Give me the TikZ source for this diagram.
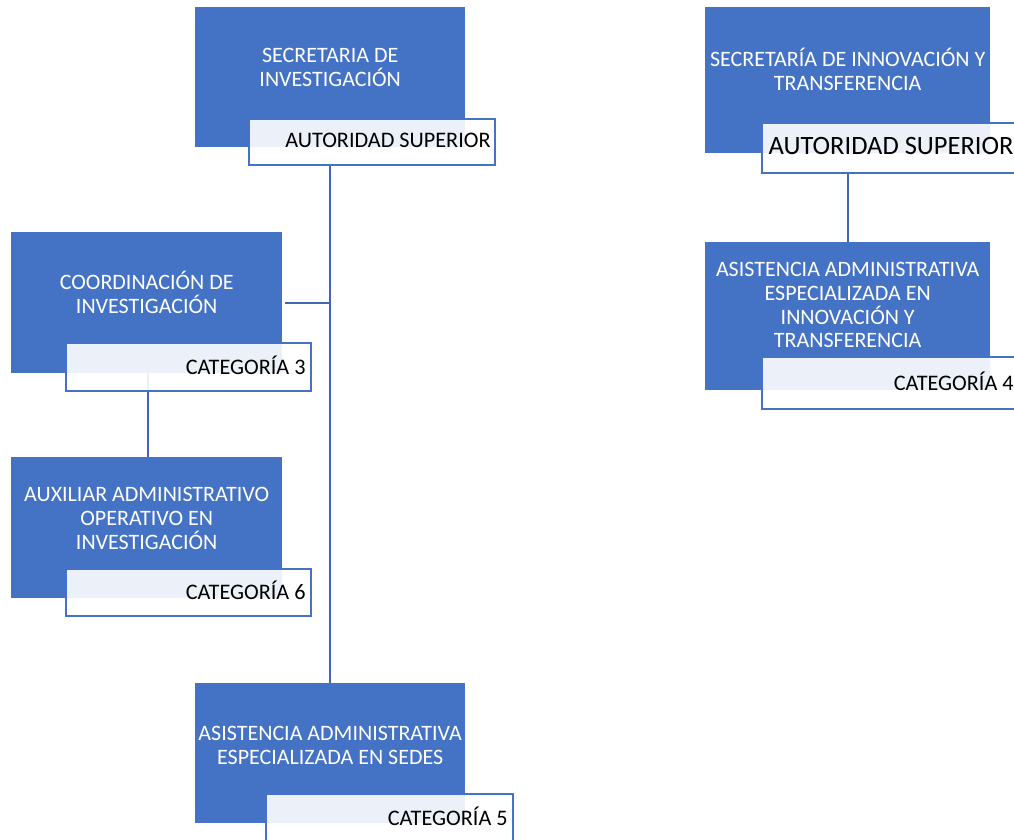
\documentclass[tikz,border=0pt]{standalone}
\usepackage{fontspec}
\setmainfont{Carlito}
\usetikzlibrary{backgrounds}
\definecolor{officeblue}{HTML}{4472C4}
\definecolor{linkblue}{HTML}{3F67B5}
\tikzset{
  bluebox/.style={rectangle, fill=officeblue, draw=none, anchor=north west, inner sep=0pt},
  boxtext/.style={text=white, align=center, font=\fontsize{22}{23.8}\selectfont, inner sep=0pt},
  tagbox/.style={rectangle, draw=officeblue, line width=1.8pt, fill=white, fill opacity=0.9, anchor=north west, inner sep=0pt},
  tagtext/.style={text=black, anchor=east, font=\fontsize{22.2}{26}\selectfont, inner sep=0pt},
  bigtag/.style={tagtext, font=\fontsize{26.5}{30}\selectfont},
  link/.style={draw=linkblue, line width=1.8pt}
}
\begin{document}
\begin{tikzpicture}[x=1pt, y=-1pt]
\useasboundingbox (0,0) rectangle (1014,840);
\clip (0,0) rectangle (1014,840);

% --- left branch: Secretaría de Investigación ---
\node[bluebox, minimum width=270pt, minimum height=140pt] (s1) at (195,7) {};
\node[boxtext] (s1x) at ([yshift=10pt]s1.center) {SECRETARIA DE\\INVESTIGACIÓN};
\node[tagbox, minimum width=246pt, minimum height=46pt] (s1t) at (248,118) {};
\node[tagtext] (s1l) at ([xshift=-5pt,yshift=2pt]s1t.east) {AUTORIDAD SUPERIOR};

\node[bluebox, minimum width=271pt, minimum height=141pt] (c3) at (11,232) {};
\node[boxtext] (c3x) at ([yshift=10pt]c3.center) {COORDINACIÓN DE\\INVESTIGACIÓN};
\node[tagbox, minimum width=245pt, minimum height=48pt] (c3t) at (65,342) {};
\node[tagtext] (c3l) at ([xshift=-6pt,yshift=2pt]c3t.east) {CATEGORÍA 3};

\node[bluebox, minimum width=271pt, minimum height=141pt] (a6) at (11,457) {};
\node[boxtext] (a6x) at ([yshift=9pt]a6.center) {AUXILIAR ADMINISTRATIVO\\OPERATIVO EN\\INVESTIGACIÓN};
\node[tagbox, minimum width=245pt, minimum height=47pt] (a6t) at (65,568) {};
\node[tagtext] (a6l) at ([xshift=-6pt,yshift=2pt]a6t.east) {CATEGORÍA 6};

\node[bluebox, minimum width=270pt, minimum height=140pt] (a5) at (195,683) {};
\node[boxtext] (a5x) at ([yshift=8pt]a5.center) {ASISTENCIA ADMINISTRATIVA\\ESPECIALIZADA EN SEDES};
\node[tagbox, minimum width=247pt, minimum height=48pt] (a5t) at (265,793) {};
\node[tagtext] (a5l) at ([xshift=-6pt,yshift=2pt]a5t.east) {CATEGORÍA 5};

% --- right branch: Secretaría de Innovación y Transferencia ---
\node[bluebox, minimum width=285pt, minimum height=146pt] (s2) at (705,7) {};
\node[boxtext] (s2x) at ([yshift=11pt]s2.center) {SECRETARÍA DE INNOVACIÓN Y\\TRANSFERENCIA};
\node[tagbox, minimum width=258pt, minimum height=50pt] (s2t) at (761,122) {};
\node[bigtag] (s2l) at ([xshift=-7pt,yshift=2pt]s2t.east) {AUTORIDAD SUPERIOR};

\node[bluebox, minimum width=285pt, minimum height=148pt] (a4) at (705,242) {};
\node[boxtext] (a4x) at ([yshift=11pt]a4.center) {ASISTENCIA ADMINISTRATIVA\\ESPECIALIZADA EN\\INNOVACIÓN Y\\TRANSFERENCIA};
\node[tagbox, minimum width=258pt, minimum height=52pt] (a4t) at (761,356) {};
\node[tagtext] (a4l) at ([xshift=-7pt,yshift=2pt]a4t.east) {CATEGORÍA 4};

% --- connectors ---
\begin{pgfonlayer}{background}
  \draw[link] (s1t.south -| s1) -- (a5.north);
  \draw[link] ([xshift=3pt]c3.east) -- (c3.east -| s1);
  \draw[link] ([xshift=1.5pt]c3.south) -- ([xshift=1.5pt]a6.north);
  \draw[link] (s2t.south -| s2) -- (a4.north);
\end{pgfonlayer}
\end{tikzpicture}
\end{document}
